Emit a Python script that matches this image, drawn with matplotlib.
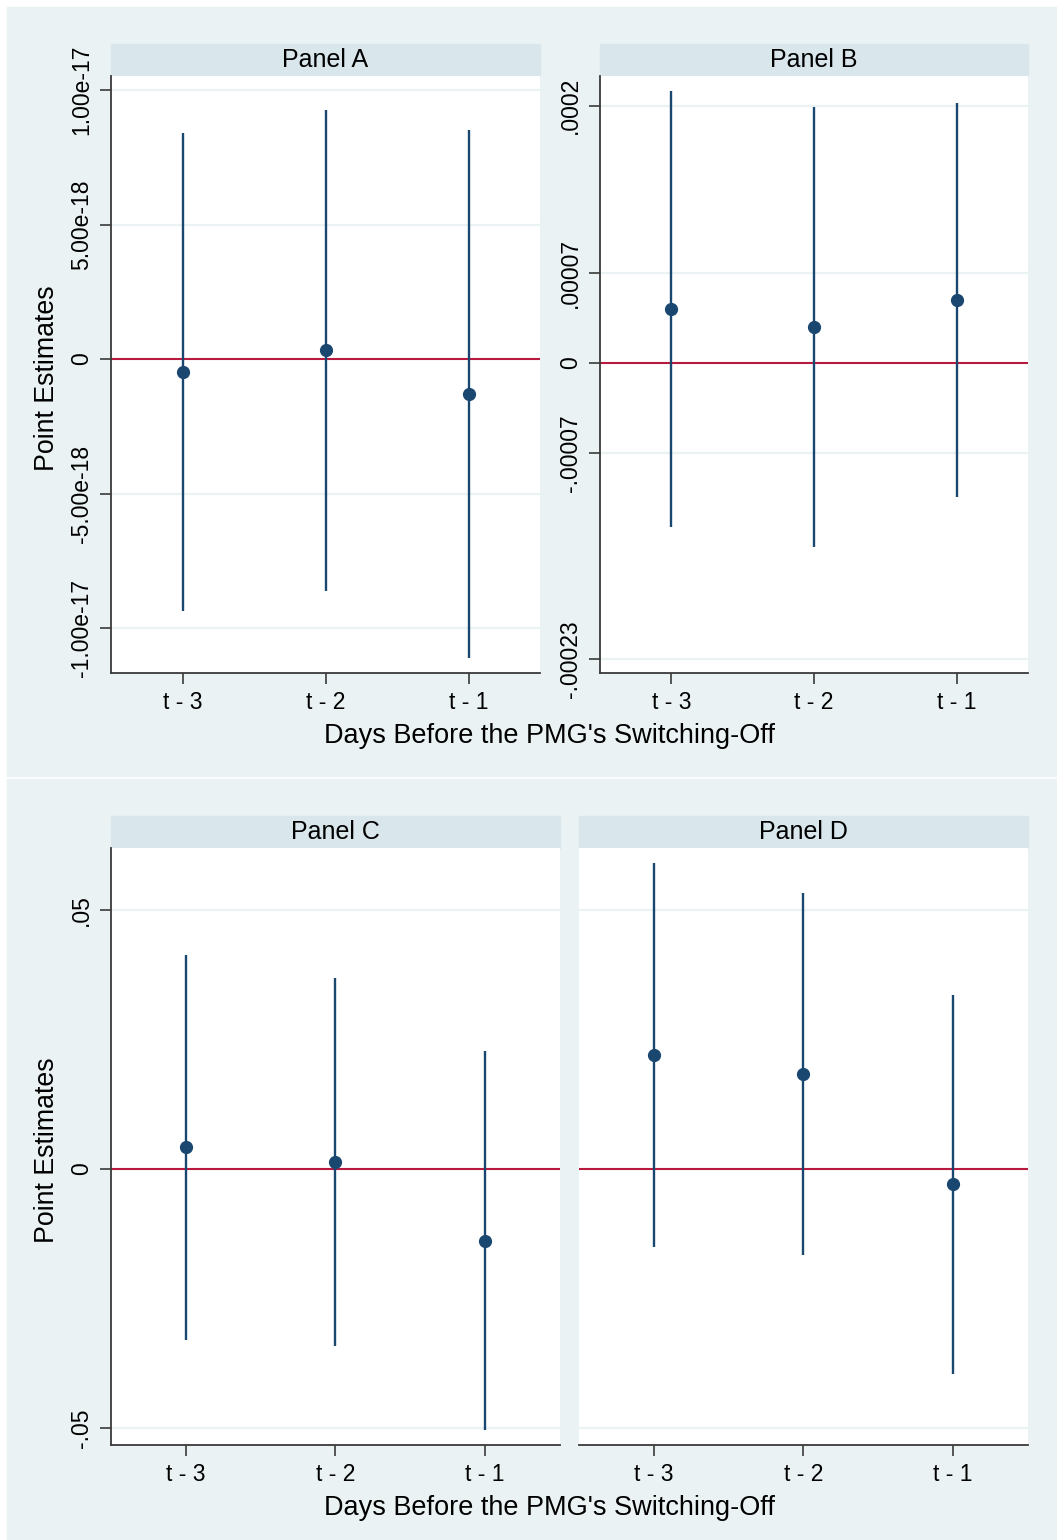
import numpy as np
import matplotlib
matplotlib.use("Agg")
import matplotlib.pyplot as plt
from matplotlib.patches import Rectangle

plt.rcParams['font.family'] = ['Liberation Sans', 'DejaVu Sans']

W, H = 1057, 1540

# data
days = ["t - 3", "t - 2", "t - 1"]
x_pos = [1, 2, 3]

a_est = [-4.8e-19, 3.3e-19, -1.30e-18]
a_hi = [8.40e-18, 9.26e-18, 8.51e-18]
a_lo = [-9.37e-18, -8.62e-18, -1.112e-17]

b_est = [4.2e-5, 2.8e-5, 4.9e-5]
b_hi = [2.116e-4, 1.99e-4, 2.02e-4]
b_lo = [-1.276e-4, -1.431e-4, -1.042e-4]

c_est = [0.00425, 0.00135, -0.0139]
c_hi = [0.0413, 0.0369, 0.0228]
c_lo = [-0.0330, -0.0342, -0.0504]

d_est = [0.0220, 0.0183, -0.0029]
d_hi = [0.0591, 0.0533, 0.0336]
d_lo = [-0.0151, -0.0166, -0.0396]

a_ticks = [-1e-17, -5e-18, 0, 5e-18, 1e-17]
a_labels = ["-1.00e-17", "-5.00e-18", "0", "5.00e-18", "1.00e-17"]
b_ticks = [-0.00023, -0.00007, 0, 0.00007, 0.0002]
b_labels = ["-.00023", "-.00007", "0", ".00007", ".0002"]
cd_ticks = [-0.05, 0, 0.05]
cd_labels = ["-.05", "0", ".05"]

NAVY = "#1a476f"
RED = "#b8193f"
BG = "#eaf2f3"
HEAD = "#d9e6eb"
AXC = "#3a3a3a"


def box(x0, y0, x1, y1):
    return [x0 / W, 1 - y1 / H, (x1 - x0) / W, (y1 - y0) / H]


fig = plt.figure(figsize=(W / 100, H / 100), dpi=100)
fig.patch.set_facecolor("white")
fig.patches.append(Rectangle((7 / W, 1 - 776 / H), 1 - 7 / W, (776 - 7) / H,
                             transform=fig.transFigure, color=BG, zorder=-5))
fig.patches.append(Rectangle((7 / W, 0), 1 - 7 / W, 1 - 779 / H,
                             transform=fig.transFigure, color=BG, zorder=-5))


def panel(x0, x1, ytop, ybot, title, est, lo, hi, ylim, ticks, labels, show_y):
    head_top = ytop - 32
    fig.patches.append(Rectangle((x0 / W, 1 - ytop / H), (x1 - x0) / W, 32 / H,
                                 transform=fig.transFigure, color=HEAD, zorder=-4))
    fig.text((x0 + x1) / 2 / W, 1 - (head_top + 16) / H, title,
             ha="center", va="center", fontsize=18)
    ax = fig.add_axes(box(x0, ytop, x1, ybot))
    ax.set_facecolor("white")
    for v in ticks:
        if v != 0:
            ax.axhline(v, color=BG, lw=1.6, zorder=0)
    ax.axhline(0, color=RED, lw=1.5, zorder=1)
    ax.vlines(x_pos, lo, hi, color=NAVY, lw=1.7, zorder=2)
    ax.plot(x_pos, est, "o", color=NAVY, ms=8.5, zorder=3)
    ax.set_xlim(0.5, 3.5)
    ax.set_ylim(*ylim)
    ax.set_xticks(x_pos)
    ax.set_xticklabels(days, fontsize=16.5)
    ax.set_yticks(ticks)
    ax.set_yticklabels(labels, rotation=90, va="center", fontsize=16.5)
    ax.tick_params(axis="x", length=8, width=1.2, color=AXC, pad=5)
    ax.tick_params(axis="y", length=8, width=1.2, color=AXC, pad=5)
    for s in ["top", "right"]:
        ax.spines[s].set_visible(False)
    ax.spines["bottom"].set_color(AXC)
    ax.spines["bottom"].set_linewidth(1.3)
    ax.spines["left"].set_color(AXC)
    ax.spines["left"].set_linewidth(1.3)
    if not show_y:
        ax.spines["left"].set_visible(False)
        ax.tick_params(axis="y", left=False, labelleft=False)
    return ax


panel(111, 540, 76, 673, "Panel A", a_est, a_lo, a_hi,
      (-1.167e-17, 1.052e-17), a_ticks, a_labels, True)
panel(600, 1028, 76, 673, "Panel B", b_est, b_lo, b_hi,
      (-0.0002411, 0.0002232), b_ticks, b_labels, True)
panel(111, 560, 848, 1445, "Panel C", c_est, c_lo, c_hi,
      (-0.05328, 0.06197), cd_ticks, cd_labels, True)
panel(579, 1028, 848, 1445, "Panel D", d_est, d_lo, d_hi,
      (-0.05328, 0.06197), cd_ticks, cd_labels, False)

for yc in [378, 1150]:
    fig.text(47 / W, 1 - yc / H, "Point Estimates", rotation=90,
             ha="center", va="center", fontsize=19.3)
for yc in [736, 1508]:
    fig.text(550 / W, 1 - yc / H, "Days Before the PMG's Switching-Off",
             ha="center", va="center", fontsize=19.5)

fig.savefig("out.png", dpi=100, facecolor=fig.get_facecolor())
